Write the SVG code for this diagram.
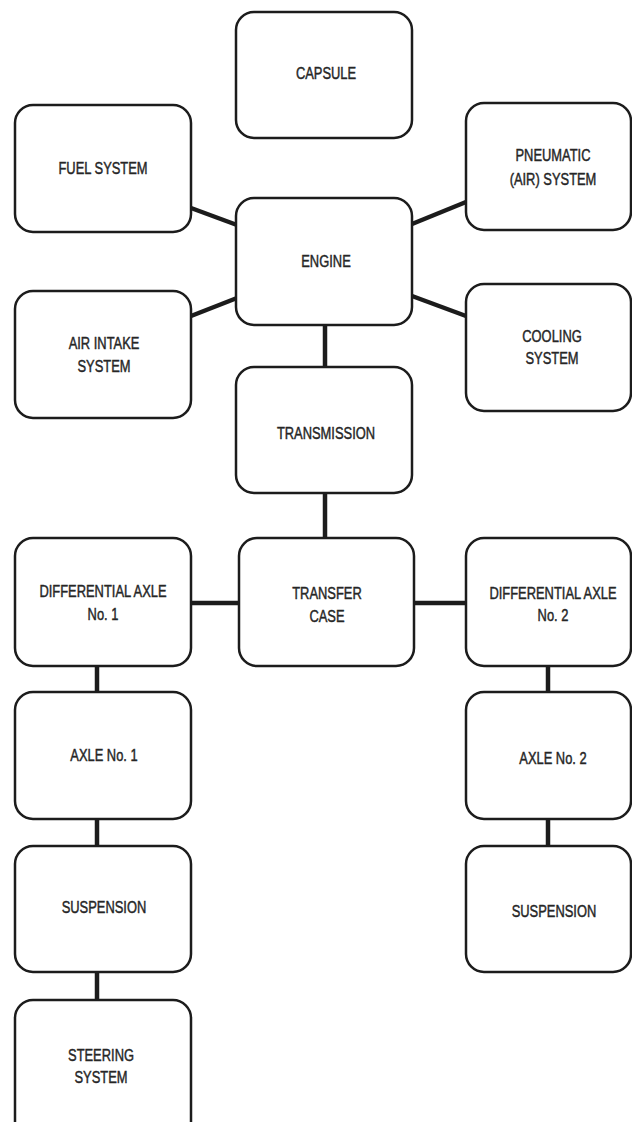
<svg xmlns="http://www.w3.org/2000/svg" width="632" height="1122" viewBox="0 0 632 1122">
<style>
.box{fill:#ffffff;stroke:#1c1c1c;stroke-width:2.5}
.lbl{font-family:"Liberation Sans",Arial,sans-serif;font-size:17px;fill:#262626;stroke:#262626;stroke-width:0.45;text-anchor:middle}
.con{stroke:#1c1c1c;stroke-width:4.5;fill:none;stroke-linecap:butt}
</style>
<rect x="0" y="0" width="632" height="1122" fill="#ffffff"/>
<g id="connectors">
<line class="con" x1="191" y1="208" x2="237" y2="225"/>
<line class="con" x1="191" y1="316" x2="237" y2="298"/>
<line class="con" x1="412" y1="224" x2="466" y2="202"/>
<line class="con" x1="412" y1="296" x2="466" y2="316"/>
<line class="con" x1="325" y1="325" x2="325" y2="367"/>
<line class="con" x1="325" y1="493" x2="325" y2="538"/>
<line class="con" x1="191" y1="603" x2="239" y2="603"/>
<line class="con" x1="414" y1="603" x2="466" y2="603"/>
<line class="con" x1="97" y1="666" x2="97" y2="692"/>
<line class="con" x1="97" y1="819" x2="97" y2="846"/>
<line class="con" x1="97" y1="972" x2="97" y2="1000"/>
<line class="con" x1="548" y1="666" x2="548" y2="692"/>
<line class="con" x1="548" y1="819" x2="548" y2="846"/>
</g>
<g id="capsule"><rect class="box" x="236" y="12" width="176" height="126" rx="18"/>
<text class="lbl" transform="translate(326,79) scale(0.76,1)">CAPSULE</text></g>
<g id="fuel-system"><rect class="box" x="15" y="105" width="176" height="127" rx="18"/>
<text class="lbl" transform="translate(103,174) scale(0.76,1)">FUEL SYSTEM</text></g>
<g id="pneumatic-system"><rect class="box" x="466" y="103" width="165" height="127" rx="18"/>
<text class="lbl" transform="translate(553,161) scale(0.76,1)">PNEUMATIC</text>
<text class="lbl" transform="translate(553,185) scale(0.76,1)">(AIR) SYSTEM</text></g>
<g id="engine"><rect class="box" x="236" y="198" width="176" height="127" rx="18"/>
<text class="lbl" transform="translate(326,267) scale(0.76,1)">ENGINE</text></g>
<g id="air-intake-system"><rect class="box" x="15" y="291" width="176" height="127" rx="18"/>
<text class="lbl" transform="translate(104,349) scale(0.76,1)">AIR INTAKE</text>
<text class="lbl" transform="translate(104,372) scale(0.76,1)">SYSTEM</text></g>
<g id="cooling-system"><rect class="box" x="466" y="284" width="165" height="127" rx="18"/>
<text class="lbl" transform="translate(552,342) scale(0.76,1)">COOLING</text>
<text class="lbl" transform="translate(552,364) scale(0.76,1)">SYSTEM</text></g>
<g id="transmission"><rect class="box" x="236" y="367" width="176" height="126" rx="18"/>
<text class="lbl" transform="translate(326,439) scale(0.76,1)">TRANSMISSION</text></g>
<g id="transfer-case"><rect class="box" x="239" y="538" width="175" height="128" rx="18"/>
<text class="lbl" transform="translate(327,599) scale(0.76,1)">TRANSFER</text>
<text class="lbl" transform="translate(327,622) scale(0.76,1)">CASE</text></g>
<g id="differential-axle-1"><rect class="box" x="15" y="538" width="176" height="128" rx="18"/>
<text class="lbl" transform="translate(103,597) scale(0.76,1)">DIFFERENTIAL AXLE</text>
<text class="lbl" transform="translate(103,620) scale(0.76,1)">No. 1</text></g>
<g id="differential-axle-2"><rect class="box" x="466" y="538" width="165" height="128" rx="18"/>
<text class="lbl" transform="translate(553,599) scale(0.76,1)">DIFFERENTIAL AXLE</text>
<text class="lbl" transform="translate(553,621) scale(0.76,1)">No. 2</text></g>
<g id="axle-1"><rect class="box" x="15" y="692" width="176" height="127" rx="18"/>
<text class="lbl" transform="translate(104,761) scale(0.76,1)">AXLE No. 1</text></g>
<g id="axle-2"><rect class="box" x="466" y="692" width="165" height="127" rx="18"/>
<text class="lbl" transform="translate(553,764) scale(0.76,1)">AXLE No. 2</text></g>
<g id="suspension-1"><rect class="box" x="15" y="846" width="176" height="126" rx="18"/>
<text class="lbl" transform="translate(104,913) scale(0.76,1)">SUSPENSION</text></g>
<g id="suspension-2"><rect class="box" x="466" y="846" width="165" height="126" rx="18"/>
<text class="lbl" transform="translate(554,917) scale(0.76,1)">SUSPENSION</text></g>
<g id="steering-system"><rect class="box" x="15" y="1000" width="176" height="140" rx="18"/>
<text class="lbl" transform="translate(101,1061) scale(0.76,1)">STEERING</text>
<text class="lbl" transform="translate(101,1083) scale(0.76,1)">SYSTEM</text></g>
</svg>
